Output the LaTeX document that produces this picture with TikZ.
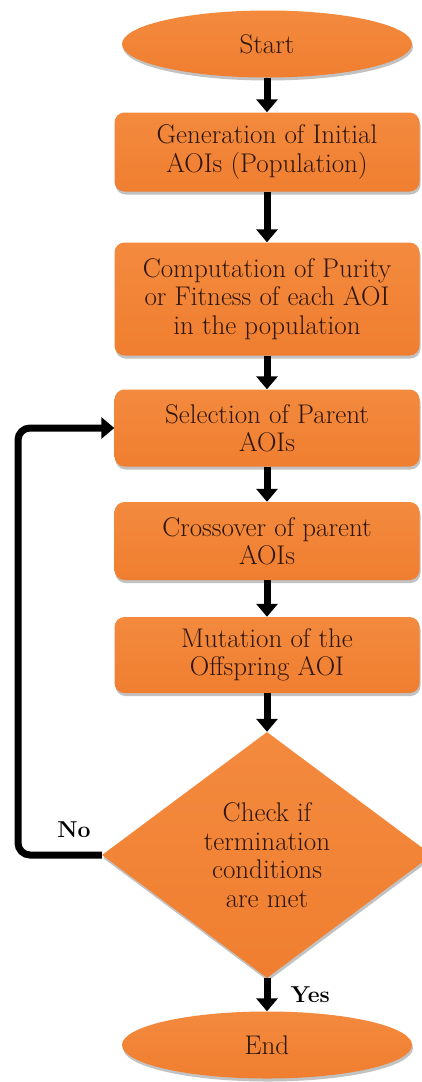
\documentclass[tikz,border=0pt]{standalone}
\usepackage{tikz}
\usetikzlibrary{shapes.geometric}
\usetikzlibrary{arrows.meta}
\usetikzlibrary{shadows}
\definecolor{aoiorange}{HTML}{F07E30}
\definecolor{aoitop}{HTML}{F38A3E}
\definecolor{aoitext}{HTML}{2E160A}
\tikzset{>={Triangle[width=21pt,length=13pt]}}
\tikzset{
  aoinode/.style={top color=aoitop, bottom color=aoiorange, draw=none,
    text=aoitext, align=center, inner sep=0pt,
    font=\fontsize{27}{28.5}\selectfont,
    drop shadow={shadow xshift=1pt, shadow yshift=-3pt, fill=black!40, opacity=0.6}},
  stepbox/.style={aoinode, rectangle, rounded corners=10pt, minimum width=305pt},
  termnode/.style={aoinode, ellipse, minimum width=290pt, minimum height=67pt},
  checknode/.style={aoinode, diamond, minimum width=330pt, minimum height=246pt},
  flow/.style={->, line width=7pt, black},
  flowlabel/.style={font=\fontsize{23}{26}\selectfont\bfseries, text=black, inner sep=0pt}
}

\begin{document}
\begin{tikzpicture}[x=1pt,y=-1pt]
  \useasboundingbox (0,0) rectangle (421,1082);
  \node[termnode] (start) at (267,44) {Start};
  \node[stepbox, minimum height=79pt] (init) at (267,152) {Generation of Initial\\AOIs (Population)};
  \node[stepbox, minimum height=113pt] (fit) at (267,299) {Computation of Purity\\or Fitness of each AOI\\in the population};
  \node[stepbox, minimum height=77pt] (sel) at (267,428) {Selection of Parent\\AOIs};
  \node[stepbox, minimum height=78pt] (cross) at (267,541) {Crossover of parent\\AOIs};
  \node[stepbox, minimum height=76pt] (mut) at (267,655) {Mutation of the\\Offspring AOI};
  \node[checknode] (check) at (267,855) {Check if\\termination\\conditions\\are met};
  \node[termnode] (end) at (267,1045) {End};
  \coordinate (corner) at (18,855);

  \draw[flow] (start) -- (init);
  \draw[flow] (init) -- (fit);
  \draw[flow] (fit) -- (sel);
  \draw[flow] (sel) -- (cross);
  \draw[flow] (cross) -- (mut);
  \draw[flow] (mut) -- (check);
  \draw[flow] (check) -- node[flowlabel, right=20pt] {Yes} (end);
  \draw[flow, rounded corners=12pt] (check.west) -- (corner) |- (sel.west);
  \node[flowlabel] (no) at (74,830) {No};
\end{tikzpicture}
\end{document}
